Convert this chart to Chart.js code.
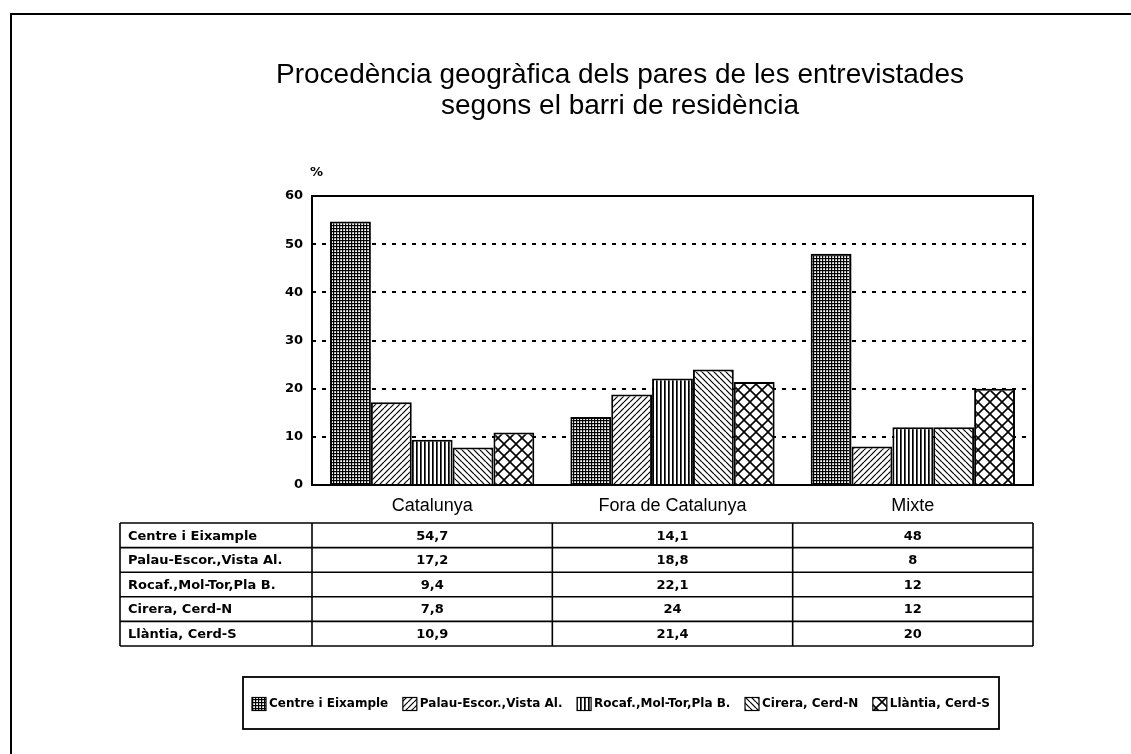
<!DOCTYPE html>
<html>
<head>
<meta charset="utf-8">
<script src="https://cdn.jsdelivr.net/npm/chart.js@4/dist/chart.umd.min.js"></script>
<style>
  html, body { margin: 0; padding: 0; background: #fff; }
  #chart { display: block; }
</style>
</head>
<body>
<canvas id="chart" width="1131" height="754"></canvas>
<script>
// Chart data
const titleLines = ['Procedència geogràfica dels pares de les entrevistades', 'segons el barri de residència'];
const categories = ['Catalunya', 'Fora de Catalunya', 'Mixte'];
const seriesNames = ['Centre i Eixample', 'Palau-Escor.,Vista Al.', 'Rocaf.,Mol-Tor,Pla B.', 'Cirera, Cerd-N', 'Llàntia, Cerd-S'];
const centre = [54.7, 14.1, 48];
const palau = [17.2, 18.8, 8];
const rocaf = [9.4, 22.1, 12];
const cirera = [7.8, 24, 12];
const llantia = [10.9, 21.4, 20];
const yTicks = [0, 10, 20, 30, 40, 50, 60];
const unitLabel = '%';

const seriesValues = [centre, palau, rocaf, cirera, llantia];
const patternTypes = ['grid', 'slash', 'vertical', 'backslash', 'diamond'];

const boldFont = '"DejaVu Sans", sans-serif';
const plainFont = '"Liberation Sans", Arial, sans-serif';

// Build hatch patterns like the old b/w printout
function makePattern(type) {
    const c = document.createElement('canvas');
    const p = c.getContext('2d');
    let size = 6;
    if (type === 'grid') size = 3;
    if (type === 'vertical') size = 4;
    if (type === 'diamond') size = 12;
    c.width = size;
    c.height = size;
    p.fillStyle = '#fff';
    p.fillRect(0, 0, size, size);
    p.strokeStyle = '#000';
    p.fillStyle = '#000';
    if (type === 'grid') {
        p.fillRect(0, 0, size, 1.2);
        p.fillRect(0, 0, 1.2, size);
    } else if (type === 'vertical') {
        p.fillRect(0, 0, 1.7, size);
    } else if (type === 'slash' || type === 'backslash' || type === 'diamond') {
        p.lineWidth = type === 'diamond' ? 1.6 : 1.2;
        const dirs = type === 'slash' ? [1] : type === 'backslash' ? [-1] : [1, -1];
        dirs.forEach(d => {
            for (let k = -1; k <= 1; k++) {
                p.beginPath();
                if (d === 1) {
                    p.moveTo(k * size, size);
                    p.lineTo(k * size + size, 0);
                } else {
                    p.moveTo(k * size, 0);
                    p.lineTo(k * size + size, size);
                }
                p.stroke();
            }
        });
    }
    return p.createPattern(c, 'repeat');
}

const patterns = patternTypes.map(makePattern);

function fmt(v) {
    return String(v).replace('.', ',');
}

// Title, frame, table and legend drawn around the chart
const extras = {
    id: 'extras',
    afterDraw(chart) {
        const ctx = chart.ctx;
        const a = chart.chartArea;
        const x = chart.scales.x;
        ctx.save();

        // page frame
        ctx.strokeStyle = '#000';
        ctx.lineWidth = 2;
        ctx.beginPath();
        ctx.moveTo(11, 754);
        ctx.lineTo(11, 14);
        ctx.lineTo(1131, 14);
        ctx.stroke();

        // plot frame
        ctx.strokeRect(a.left, a.top, a.right - a.left, a.bottom - a.top);

        // title
        ctx.fillStyle = '#000';
        ctx.font = '28px ' + plainFont;
        ctx.textAlign = 'center';
        ctx.textBaseline = 'middle';
        titleLines.forEach((t, i) => ctx.fillText(t, 620, 75 + i * 31));

        // unit label
        ctx.font = 'bold 13px ' + boldFont;
        ctx.textAlign = 'left';
        ctx.fillText(unitLabel, a.left - 2, 173);

        // data table
        const top = 523, rowH = 24.6, tableLeft = 120;
        const catW = (a.right - a.left) / categories.length;
        const bottom = top + rowH * seriesNames.length;
        ctx.lineWidth = 1.6;
        for (let r = 0; r <= seriesNames.length; r++) {
            ctx.beginPath();
            ctx.moveTo(tableLeft, top + r * rowH);
            ctx.lineTo(a.right, top + r * rowH);
            ctx.stroke();
        }
        const cols = [tableLeft, a.left];
        categories.forEach((c, i) => cols.push(x.getPixelForTick(i) + catW / 2));
        cols.forEach(cx => {
            ctx.beginPath();
            ctx.moveTo(cx, top);
            ctx.lineTo(cx, bottom);
            ctx.stroke();
        });
        ctx.font = 'bold 13px ' + boldFont;
        seriesNames.forEach((name, r) => {
            const cy = top + r * rowH + rowH / 2 + 1;
            ctx.textAlign = 'left';
            ctx.fillText(name, tableLeft + 8, cy);
            ctx.textAlign = 'center';
            seriesValues[r].forEach((v, i) => ctx.fillText(fmt(v), x.getPixelForTick(i), cy));
        });

        // legend box
        const lx = 243, ly = 677, lw = 756, lh = 52;
        ctx.lineWidth = 1.8;
        ctx.strokeRect(lx, ly, lw, lh);
        ctx.font = 'bold 12px ' + boldFont;
        const sw = 14, gapIn = 3;
        const widths = seriesNames.map(n => ctx.measureText(n).width);
        const used = widths.reduce((s, w) => s + w + sw + gapIn, 0);
        const gap = (738 - used) / (seriesNames.length - 1);
        let px = lx + 9;
        const cy = ly + lh / 2 + 1;
        seriesNames.forEach((n, i) => {
            ctx.fillStyle = patterns[i];
            ctx.fillRect(px, cy - 6.5, sw, 13);
            ctx.lineWidth = 1.2;
            ctx.strokeRect(px, cy - 6.5, sw, 13);
            ctx.fillStyle = '#000';
            ctx.textAlign = 'left';
            ctx.fillText(n, px + sw + gapIn, cy);
            px += sw + gapIn + widths[i] + gap;
        });

        ctx.restore();
    }
};

const ctx = document.getElementById('chart').getContext('2d');
new Chart(ctx, {
    type: 'bar',
    data: {
        labels: categories,
        datasets: seriesNames.map((name, i) => ({
            label: name,
            data: seriesValues[i],
            backgroundColor: patterns[i],
            borderColor: '#000',
            borderWidth: 2,
            categoryPercentage: 0.85,
            barPercentage: 1
        }))
    },
    options: {
        responsive: false,
        animation: false,
        layout: { padding: { left: 282, right: 98, top: 196, bottom: 0 } },
        plugins: {
            legend: { display: false },
            tooltip: { enabled: false },
            title: { display: false }
        },
        scales: {
            x: {
                grid: { display: false, drawTicks: false },
                border: { display: false },
                ticks: { color: '#000', padding: 10, font: { family: plainFont, size: 18 } },
                afterFit: s => { s.height = 269; }
            },
            y: {
                min: 0,
                max: 60,
                afterBuildTicks: s => { s.ticks = yTicks.map(v => ({ value: v })); },
                ticks: { color: '#000', padding: 9, font: { family: boldFont, size: 13, weight: 'bold' } },
                grid: {
                    drawTicks: false,
                    lineWidth: 2,
                    color: c => (c.tick.value === 0 || c.tick.value === 60) ? 'rgba(0,0,0,0)' : '#000'
                },
                border: { display: false, dash: [4, 6] },
                afterFit: s => { s.width = 30; }
            }
        }
    },
    plugins: [extras]
});
</script>
</body>
</html>
